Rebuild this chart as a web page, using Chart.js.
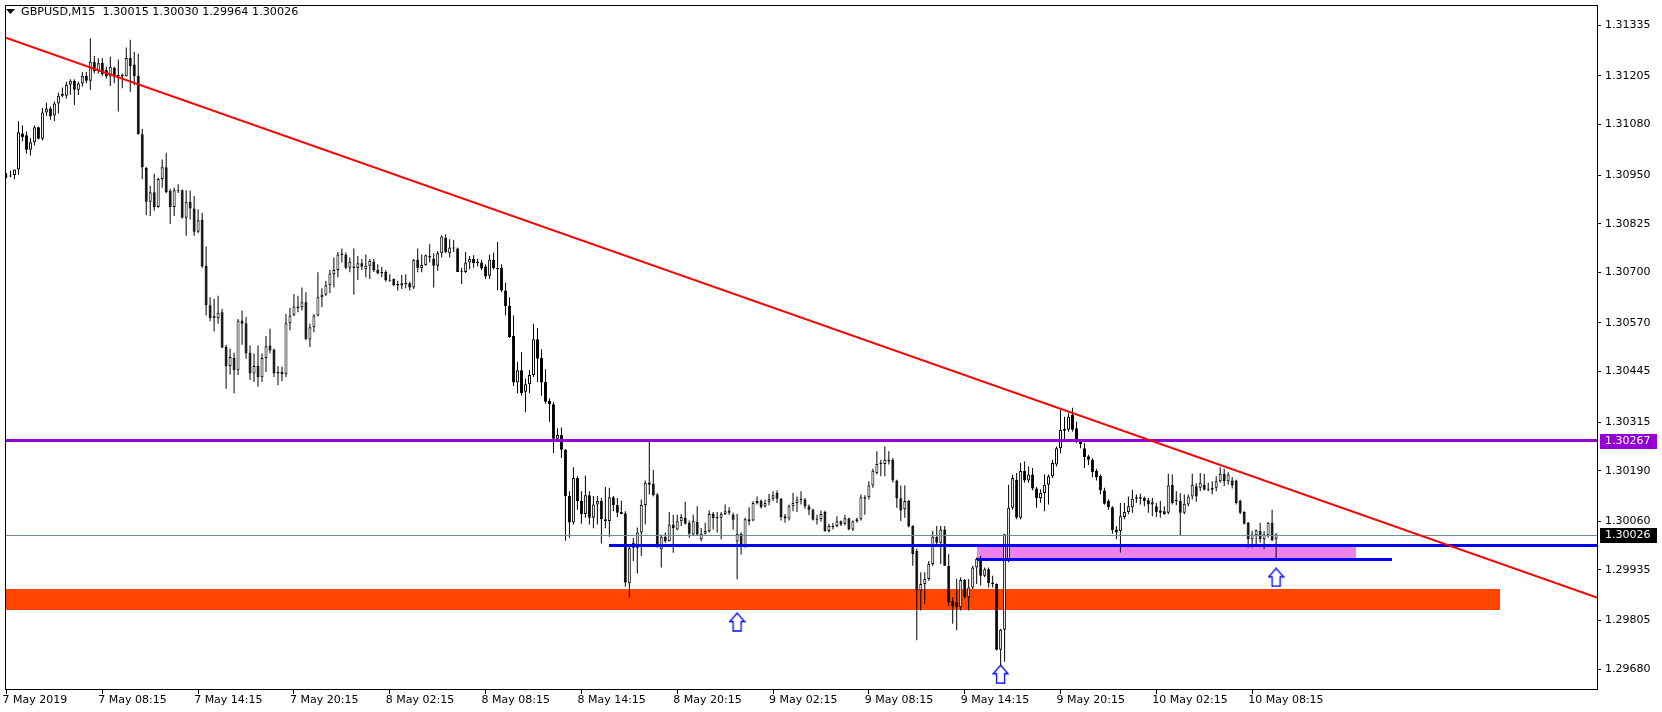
<!DOCTYPE html>
<html><head><meta charset="utf-8">
<script src="https://cdn.jsdelivr.net/npm/chart.js@4.4.1/dist/chart.umd.min.js"></script>
<style>html,body{margin:0;padding:0;background:#fff;overflow:hidden}canvas{display:block}</style>
</head><body>
<canvas id="c" width="1662" height="712"></canvas>
<script>
const chartTitle = 'GBPUSD,M15  1.30015 1.30030 1.29964 1.30026';

const opens = [
1.30948,1.30946,1.30950,1.30964,1.31057,1.31052,1.31015,1.31034,1.31073,1.31043,
1.31111,1.31121,1.31103,1.31134,1.31158,1.31154,1.31182,1.31192,1.31169,1.31185,
1.31205,1.31192,1.31241,1.31217,1.31238,1.31220,1.31203,1.31226,1.31207,1.31203,
1.31204,1.31251,1.31234,1.31205,1.31055,1.30968,1.30881,1.30906,1.30868,1.30940,
1.30970,1.30909,1.30868,1.30910,1.30911,1.30840,1.30881,1.30864,1.30804,1.30835,
1.30717,1.30615,1.30582,1.30582,1.30597,1.30508,1.30459,1.30480,1.30448,1.30576,
1.30569,1.30493,1.30440,1.30459,1.30430,1.30480,1.30512,1.30501,1.30444,1.30444,
1.30438,1.30569,1.30591,1.30612,1.30610,1.30623,1.30527,1.30559,1.30589,1.30636,
1.30642,1.30667,1.30695,1.30706,1.30748,1.30746,1.30712,1.30715,1.30711,1.30723,
1.30708,1.30717,1.30727,1.30706,1.30701,1.30701,1.30681,1.30683,1.30670,1.30666,
1.30672,1.30672,1.30661,1.30732,1.30711,1.30719,1.30742,1.30735,1.30717,1.30749,
1.30789,1.30749,1.30764,1.30761,1.30701,1.30701,1.30725,1.30734,1.30727,1.30725,
1.30715,1.30691,1.30732,1.30711,1.30712,1.30653,1.30614,1.30536,1.30417,1.30448,
1.30393,1.30412,1.30436,1.30528,1.30480,1.30418,1.30370,1.30361,1.30272,1.30282,
1.30244,1.30125,1.30057,1.30171,1.30112,1.30079,1.30127,1.30069,1.30103,1.30112,
1.30065,1.30061,1.30122,1.30102,1.30084,1.30081,1.29901,1.29992,1.29992,1.30031,
1.30102,1.30160,1.30156,1.30129,1.29988,1.30020,1.30009,1.30052,1.30039,1.30060,
1.30069,1.30056,1.30026,1.30059,1.30014,1.30028,1.30035,1.30079,1.30071,1.30069,
1.30079,1.30082,1.30077,1.30008,1.30028,1.29999,1.30060,1.30062,1.30112,1.30113,
1.30099,1.30110,1.30118,1.30133,1.30118,1.30073,1.30067,1.30099,1.30107,1.30118,
1.30116,1.30099,1.30090,1.30066,1.30065,1.30084,1.30035,1.30048,1.30048,1.30060,
1.30054,1.30068,1.30039,1.30060,1.30065,1.30122,1.30122,1.30152,1.30184,1.30210,
1.30207,1.30218,1.30218,1.30165,1.30119,1.30091,1.30112,1.30048,1.29984,1.29882,
1.29899,1.29912,1.29950,1.30020,1.30005,1.30039,1.29946,1.29855,1.29852,1.29839,
1.29909,1.29865,1.29890,1.29941,1.29963,1.29920,1.29937,1.29903,1.29899,1.29730,
1.29781,1.29960,1.30095,1.30167,1.30069,1.30189,1.30165,1.30180,1.30144,1.30119,
1.30133,1.30154,1.30176,1.30206,1.30248,1.30293,1.30295,1.30333,1.30299,1.30265,
1.30248,1.30227,1.30218,1.30190,1.30177,1.30139,1.30112,1.30096,1.30039,1.30035,
1.30071,1.30084,1.30096,1.30118,1.30122,1.30120,1.30114,1.30103,1.30099,1.30088,
1.30086,1.30082,1.30154,1.30113,1.30113,1.30082,1.30103,1.30124,1.30150,1.30146,
1.30154,1.30143,1.30141,1.30146,1.30163,1.30182,1.30163,1.30165,1.30165,1.30112,
1.30084,1.30056,1.30014,1.30024,1.30035,1.30014,1.30024,1.30056,1.30015];

const highs = [
1.30955,1.30961,1.30964,1.31088,1.31077,1.31062,1.31045,1.31077,1.31075,1.31122,
1.31136,1.31126,1.31139,1.31162,1.31175,1.31190,1.31196,1.31196,1.31190,1.31215,
1.31215,1.31301,1.31256,1.31250,1.31251,1.31228,1.31254,1.31228,1.31247,1.31211,
1.31278,1.31298,1.31267,1.31262,1.31068,1.30971,1.30922,1.30953,1.30943,1.30990,
1.31007,1.30915,1.30917,1.30926,1.30913,1.30911,1.30910,1.30896,1.30862,1.30853,
1.30766,1.30636,1.30632,1.30640,1.30606,1.30514,1.30504,1.30493,1.30580,1.30602,
1.30585,1.30512,1.30491,1.30512,1.30491,1.30536,1.30555,1.30504,1.30459,1.30457,
1.30593,1.30608,1.30644,1.30640,1.30661,1.30649,1.30568,1.30593,1.30700,1.30659,
1.30678,1.30706,1.30738,1.30752,1.30761,1.30751,1.30738,1.30761,1.30742,1.30734,
1.30746,1.30734,1.30734,1.30721,1.30714,1.30706,1.30695,1.30684,1.30678,1.30693,
1.30695,1.30676,1.30734,1.30761,1.30746,1.30746,1.30772,1.30749,1.30755,1.30795,
1.30798,1.30785,1.30783,1.30764,1.30712,1.30752,1.30742,1.30744,1.30735,1.30732,
1.30721,1.30746,1.30751,1.30778,1.30721,1.30674,1.30636,1.30589,1.30470,1.30495,
1.30427,1.30448,1.30568,1.30557,1.30502,1.30451,1.30376,1.30366,1.30299,1.30301,
1.30246,1.30137,1.30199,1.30176,1.30137,1.30178,1.30137,1.30125,1.30125,1.30120,
1.30148,1.30146,1.30125,1.30120,1.30113,1.30086,1.30001,1.30018,1.30044,1.30116,
1.30165,1.30265,1.30192,1.30133,1.30026,1.30031,1.30084,1.30077,1.30077,1.30079,
1.30110,1.30062,1.30077,1.30099,1.30043,1.30056,1.30088,1.30084,1.30084,1.30084,
1.30103,1.30096,1.30082,1.30079,1.30031,1.30069,1.30096,1.30112,1.30124,1.30116,
1.30116,1.30130,1.30137,1.30139,1.30120,1.30079,1.30103,1.30133,1.30124,1.30137,
1.30120,1.30103,1.30093,1.30077,1.30088,1.30088,1.30054,1.30056,1.30073,1.30062,
1.30077,1.30069,1.30062,1.30069,1.30129,1.30127,1.30163,1.30195,1.30240,1.30218,
1.30252,1.30240,1.30223,1.30167,1.30152,1.30152,1.30115,1.30050,1.29990,1.29929,
1.29929,1.29958,1.30035,1.30048,1.30048,1.30048,1.29976,1.29865,1.29912,1.29916,
1.29912,1.29912,1.29946,1.29967,1.29971,1.29941,1.29941,1.29920,1.29901,1.29784,
1.30027,1.30154,1.30180,1.30184,1.30210,1.30214,1.30201,1.30197,1.30148,1.30142,
1.30180,1.30180,1.30218,1.30252,1.30346,1.30329,1.30338,1.30352,1.30316,1.30270,
1.30261,1.30231,1.30222,1.30195,1.30180,1.30146,1.30116,1.30099,1.30048,1.30107,
1.30107,1.30124,1.30141,1.30129,1.30131,1.30124,1.30120,1.30120,1.30107,1.30112,
1.30099,1.30182,1.30180,1.30137,1.30133,1.30129,1.30129,1.30182,1.30158,1.30184,
1.30182,1.30159,1.30163,1.30176,1.30199,1.30195,1.30186,1.30174,1.30167,1.30116,
1.30086,1.30058,1.30035,1.30039,1.30056,1.30035,1.30058,1.30090,1.30030];

const lows = [
1.30942,1.30944,1.30939,1.30951,1.31037,1.31005,1.31000,1.31026,1.31041,1.31039,
1.31102,1.31092,1.31089,1.31109,1.31150,1.31147,1.31156,1.31130,1.31156,1.31177,
1.31186,1.31169,1.31211,1.31211,1.31205,1.31198,1.31179,1.31186,1.31113,1.31173,
1.31203,1.31164,1.31181,1.31054,1.30939,1.30847,1.30845,1.30858,1.30866,1.30917,
1.30903,1.30824,1.30845,1.30904,1.30838,1.30794,1.30836,1.30794,1.30801,1.30712,
1.30589,1.30574,1.30548,1.30568,1.30506,1.30401,1.30437,1.30389,1.30436,1.30514,
1.30478,1.30423,1.30418,1.30406,1.30418,1.30444,1.30491,1.30431,1.30410,1.30420,
1.30431,1.30551,1.30587,1.30597,1.30602,1.30527,1.30508,1.30546,1.30587,1.30610,
1.30640,1.30647,1.30661,1.30687,1.30725,1.30708,1.30700,1.30642,1.30680,1.30706,
1.30687,1.30683,1.30701,1.30695,1.30687,1.30676,1.30676,1.30664,1.30653,1.30657,
1.30659,1.30653,1.30657,1.30700,1.30700,1.30717,1.30725,1.30661,1.30704,1.30738,
1.30749,1.30738,1.30752,1.30701,1.30670,1.30698,1.30708,1.30712,1.30715,1.30706,
1.30683,1.30683,1.30708,1.30653,1.30649,1.30589,1.30531,1.30408,1.30389,1.30383,
1.30340,1.30389,1.30431,1.30418,1.30383,1.30363,1.30316,1.30235,1.30265,1.30223,
1.30010,1.30018,1.30052,1.30090,1.30054,1.30069,1.30052,1.30042,1.30052,1.30003,
1.30042,1.30020,1.30086,1.30071,1.30078,1.29892,1.29865,1.29958,1.29926,1.29971,
1.30052,1.30129,1.30124,1.29992,1.29941,1.30005,1.30008,1.29979,1.30037,1.30048,
1.30052,1.30018,1.30022,1.30022,1.30009,1.30026,1.30031,1.30039,1.30031,1.30014,
1.30076,1.30077,1.30039,1.29911,1.29975,1.29992,1.30050,1.30060,1.30103,1.30093,
1.30095,1.30101,1.30112,1.30107,1.30062,1.30056,1.30062,1.30086,1.30084,1.30103,
1.30093,1.30076,1.30062,1.30052,1.30059,1.30033,1.30031,1.30039,1.30045,1.30048,
1.30050,1.30037,1.30035,1.30056,1.30062,1.30077,1.30116,1.30146,1.30180,1.30176,
1.30176,1.30206,1.30160,1.30095,1.30061,1.30069,1.30044,1.29946,1.29754,1.29831,
1.29848,1.29907,1.29946,1.29997,1.29950,1.29946,1.29843,1.29797,1.29780,1.29831,
1.29861,1.29831,1.29886,1.29899,1.29895,1.29916,1.29890,1.29890,1.29728,1.29673,
1.29699,1.29955,1.30090,1.30065,1.30065,1.30159,1.30159,1.30140,1.30095,1.30108,
1.30086,1.30103,1.30171,1.30201,1.30235,1.30265,1.30290,1.30291,1.30261,1.30248,
1.30197,1.30205,1.30173,1.30165,1.30129,1.30103,1.30090,1.30028,1.30014,1.29980,
1.30065,1.30078,1.30082,1.30107,1.30103,1.30099,1.30082,1.30073,1.30071,1.30069,
1.30076,1.30078,1.30103,1.30101,1.30022,1.30078,1.30099,1.30116,1.30110,1.30137,
1.30139,1.30137,1.30129,1.30137,1.30159,1.30150,1.30154,1.30144,1.30103,1.30078,
1.30052,1.29992,1.29992,1.29994,1.30005,1.29988,1.30018,1.30009,1.29964];

const closes = [
1.30946,1.30949,1.30964,1.31060,1.31048,1.31015,1.31034,1.31073,1.31043,1.31111,
1.31121,1.31102,1.31134,1.31154,1.31154,1.31182,1.31192,1.31169,1.31185,1.31205,
1.31192,1.31241,1.31217,1.31237,1.31209,1.31203,1.31228,1.31203,1.31203,1.31207,
1.31251,1.31230,1.31204,1.31055,1.30970,1.30881,1.30906,1.30868,1.30940,1.30970,
1.30906,1.30868,1.30911,1.30908,1.30840,1.30881,1.30864,1.30804,1.30834,1.30715,
1.30615,1.30582,1.30588,1.30596,1.30506,1.30459,1.30482,1.30448,1.30576,1.30568,
1.30491,1.30440,1.30459,1.30430,1.30480,1.30510,1.30499,1.30440,1.30440,1.30438,
1.30569,1.30589,1.30612,1.30608,1.30623,1.30527,1.30559,1.30589,1.30636,1.30642,
1.30667,1.30697,1.30706,1.30746,1.30744,1.30712,1.30727,1.30711,1.30723,1.30714,
1.30717,1.30729,1.30706,1.30697,1.30698,1.30680,1.30678,1.30667,1.30666,1.30672,
1.30670,1.30661,1.30732,1.30711,1.30719,1.30744,1.30738,1.30717,1.30749,1.30792,
1.30752,1.30764,1.30761,1.30701,1.30700,1.30725,1.30734,1.30724,1.30724,1.30710,
1.30689,1.30732,1.30711,1.30708,1.30653,1.30613,1.30534,1.30417,1.30448,1.30389,
1.30412,1.30436,1.30528,1.30478,1.30417,1.30367,1.30361,1.30272,1.30282,1.30244,
1.30125,1.30057,1.30171,1.30112,1.30079,1.30127,1.30069,1.30103,1.30112,1.30065,
1.30061,1.30122,1.30102,1.30082,1.30079,1.29903,1.29991,1.30005,1.30031,1.30102,
1.30159,1.30154,1.30127,1.29994,1.30020,1.30009,1.30052,1.30042,1.30060,1.30071,
1.30054,1.30028,1.30060,1.30026,1.30028,1.30035,1.30079,1.30068,1.30068,1.30079,
1.30086,1.30088,1.30064,1.30028,1.29999,1.30065,1.30065,1.30107,1.30107,1.30096,
1.30107,1.30118,1.30127,1.30118,1.30071,1.30067,1.30099,1.30107,1.30116,1.30114,
1.30099,1.30090,1.30064,1.30064,1.30079,1.30035,1.30048,1.30045,1.30060,1.30052,
1.30068,1.30039,1.30060,1.30065,1.30122,1.30118,1.30152,1.30190,1.30207,1.30207,
1.30218,1.30214,1.30165,1.30119,1.30088,1.30112,1.30048,1.29976,1.29882,1.29899,
1.29912,1.29950,1.30020,1.30005,1.30039,1.29946,1.29852,1.29841,1.29839,1.29909,
1.29865,1.29890,1.29941,1.29963,1.29920,1.29937,1.29901,1.29899,1.29730,1.29781,
1.30027,1.30095,1.30171,1.30069,1.30189,1.30165,1.30180,1.30144,1.30119,1.30133,
1.30154,1.30176,1.30210,1.30248,1.30295,1.30297,1.30329,1.30295,1.30265,1.30258,
1.30225,1.30218,1.30187,1.30173,1.30139,1.30105,1.30096,1.30037,1.30031,1.30073,
1.30084,1.30099,1.30118,1.30122,1.30118,1.30112,1.30103,1.30109,1.30084,1.30082,
1.30079,1.30152,1.30107,1.30112,1.30082,1.30105,1.30124,1.30154,1.30124,1.30159,
1.30141,1.30141,1.30146,1.30163,1.30182,1.30163,1.30180,1.30152,1.30107,1.30082,
1.30054,1.30014,1.30026,1.30037,1.30014,1.30026,1.30056,1.30012,1.30026];

// time axis: bar index of each label, and the label text
const tickBars = [0,24,48,72,96,120,144,168,192,216,240,264,288,312];
const tickTexts = ['7 May 2019','7 May 08:15','7 May 14:15','7 May 20:15','8 May 02:15','8 May 08:15',
  '8 May 14:15','8 May 20:15','9 May 02:15','9 May 08:15','9 May 14:15','9 May 20:15','10 May 02:15','10 May 08:15'];
const priceTicks = [1.31335,1.31205,1.31080,1.30950,1.30825,1.30700,1.30570,1.30445,1.30315,1.30190,1.30060,1.29935,1.29805,1.29680];

// drawn objects (bar index / price)
const arrowBars = [183, 249, 318];
const arrowPrices = [1.29801, 1.29667, 1.29916];
const trendBars = [0, 318];
const trendPrices = [1.31302, 1.30154];
const resistancePrice = 1.30267;
const bidPrice = 1.30026;
const supportBars = [151, 400];
const supportPrice = 1.29999;
const support2Bars = [243, 347];
const support2Price = 1.29963;
const violetZoneBars = [243, 338];
const violetZonePrices = [1.29999, 1.29963];
const orangeZoneBars = [-10, 374];
const orangeZonePrices = [1.29887, 1.29832];

const FONT = 'DejaVu Sans';

function makeArrow(){
  const c = document.createElement('canvas');
  c.width = 17; c.height = 20;
  const g = c.getContext('2d');
  g.beginPath();
  g.moveTo(8.5, 1); g.lineTo(16, 9.5); g.lineTo(12.5, 9.5); g.lineTo(12.5, 19); g.lineTo(4.5, 19);
  g.lineTo(4.5, 9.5); g.lineTo(1, 9.5); g.closePath();
  g.fillStyle = '#ffffff'; g.fill();
  g.strokeStyle = '#0000ff'; g.lineWidth = 1.3; g.stroke();
  return c;
}

const wickData = opens.map((o, i) => ({x: i, y: [lows[i], highs[i]]}));
const bodyData = opens.map((o, i) => ({x: i, y: [o, closes[i]]}));
const bodyColors = opens.map((o, i) => closes[i] >= o ? '#ffffff' : '#000000');
const arrowData = arrowBars.map((b, k) => ({x: b, y: arrowPrices[k]}));

function hLine(ctx, xs, ys, bars, price, w, color){
  const x1 = bars ? xs.getPixelForValue(bars[0]) : xs.left;
  const x2 = bars ? xs.getPixelForValue(bars[1]) : xs.right;
  const yp = ys.getPixelForValue(price);
  ctx.fillStyle = color;
  ctx.fillRect(Math.round(x1), Math.round(yp - w / 2), Math.round(x2) - Math.round(x1), w);
}
function zone(ctx, xs, ys, bars, prices, color){
  const x1 = Math.round(xs.getPixelForValue(bars[0]));
  const x2 = Math.round(xs.getPixelForValue(bars[1]));
  const y1 = Math.round(ys.getPixelForValue(prices[0]));
  const y2 = Math.round(ys.getPixelForValue(prices[1]));
  ctx.fillStyle = color;
  ctx.fillRect(x1, y1, x2 - x1, y2 - y1);
}

const overlay = {
  id: 'overlay',
  beforeDatasetsDraw(chart){
    const {ctx, chartArea: a, scales: {x, y}} = chart;
    ctx.save();
    ctx.beginPath(); ctx.rect(a.left, a.top, a.right - a.left, a.bottom - a.top); ctx.clip();
    zone(ctx, x, y, orangeZoneBars, orangeZonePrices, '#FF4500');
    zone(ctx, x, y, violetZoneBars, violetZonePrices, '#EE82EE');
    ctx.restore();
  },
  afterDatasetsDraw(chart){
    const {ctx, chartArea: a, scales: {x, y}} = chart;
    ctx.save();
    ctx.beginPath(); ctx.rect(a.left, a.top, a.right - a.left, a.bottom - a.top); ctx.clip();
    const by = Math.round(y.getPixelForValue(bidPrice)) + 0.5;
    ctx.strokeStyle = '#778899'; ctx.lineWidth = 1;
    ctx.beginPath(); ctx.moveTo(a.left, by); ctx.lineTo(a.right, by); ctx.stroke();
    hLine(ctx, x, y, null, resistancePrice, 3, '#9400D3');
    hLine(ctx, x, y, supportBars, supportPrice, 3, '#0000FF');
    hLine(ctx, x, y, support2Bars, support2Price, 3, '#0000FF');
    const px1 = x.getPixelForValue(trendBars[0]), py1 = y.getPixelForValue(trendPrices[0]);
    const px2 = x.getPixelForValue(trendBars[1]), py2 = y.getPixelForValue(trendPrices[1]);
    const k = (py2 - py1) / (px2 - px1);
    ctx.strokeStyle = '#FF0000'; ctx.lineWidth = 2;
    ctx.beginPath();
    ctx.moveTo(a.left, py1 + k * (a.left - px1));
    ctx.lineTo(a.right, py1 + k * (a.right - px1));
    ctx.stroke();
    ctx.restore();
  },
  afterDraw(chart){
    const {ctx, chartArea: a, scales: {y}} = chart;
    ctx.save();
    ctx.strokeStyle = '#000'; ctx.lineWidth = 1;
    ctx.strokeRect(a.left + 0.5, a.top + 0.5, a.right - a.left, a.bottom - a.top);
    ctx.fillStyle = '#000';
    ctx.beginPath(); ctx.moveTo(6, 9); ctx.lineTo(15, 9); ctx.lineTo(10.5, 14); ctx.closePath(); ctx.fill();
    ctx.font = '11.2px "' + FONT + '"';
    ctx.textBaseline = 'middle'; ctx.textAlign = 'left';
    ctx.fillText(chartTitle, 21, 12.5);
    ctx.font = '11px "' + FONT + '"';
    const box = (price, bg) => {
      const yp = Math.round(y.getPixelForValue(price));
      ctx.fillStyle = bg;
      ctx.fillRect(a.right + 3, yp - 7, 57, 15);
      ctx.fillStyle = '#fff';
      ctx.fillText(price.toFixed(5), a.right + 8, yp + 0.5);
    };
    box(resistancePrice, '#9400D3');
    box(bidPrice, '#000000');
    ctx.restore();
  }
};

new Chart(document.getElementById('c'), {
  type: 'bar',
  data: {
    datasets: [
      {type: 'scatter', data: arrowData, pointStyle: makeArrow(), pointRadius: 3, order: 0},
      {type: 'bar', data: bodyData, backgroundColor: bodyColors, borderColor: '#000000', borderWidth: 1,
       borderSkipped: false, barThickness: 3, grouped: false, minBarLength: 1, inflateAmount: 0, order: 1},
      {type: 'bar', data: wickData, backgroundColor: '#000000', borderWidth: 0, barThickness: 1,
       grouped: false, inflateAmount: 0, order: 2}
    ]
  },
  options: {
    responsive: false, animation: false, devicePixelRatio: 1, events: [],
    layout: {padding: {left: 2, top: 1, right: 0, bottom: 0}},
    plugins: {legend: {display: false}, tooltip: {enabled: false}},
    scales: {
      x: {
        type: 'linear', min: -0.375, max: 398.375, offset: false,
        afterBuildTicks: s => { s.ticks = tickBars.map(v => ({value: v})); },
        afterFit: s => { s.height = 23; s.paddingLeft = 0; s.paddingRight = 0; },
        ticks: {autoSkip: false, maxRotation: 0, minRotation: 0, align: 'start', padding: 0, labelOffset: -4,
          color: '#000', font: {family: FONT, size: 11},
          callback: v => { const k = tickBars.indexOf(v); return k >= 0 ? tickTexts[k] : ''; }},
        grid: {drawOnChartArea: false, drawTicks: true, tickLength: 5, color: '#000', offset: false},
        border: {display: false}
      },
      y: {
        type: 'linear', position: 'right', min: 1.29629, max: 1.31387,
        afterBuildTicks: s => { s.ticks = priceTicks.map(v => ({value: v})); },
        afterFit: s => { s.width = 65; s.paddingTop = 0; s.paddingBottom = 0; },
        ticks: {autoSkip: false, padding: 4, color: '#000', font: {family: FONT, size: 11},
          callback: v => Number(v).toFixed(5)},
        grid: {drawOnChartArea: false, drawTicks: true, tickLength: 4, color: '#000'},
        border: {display: false}
      }
    }
  },
  plugins: [overlay]
});
</script>
</body></html>
